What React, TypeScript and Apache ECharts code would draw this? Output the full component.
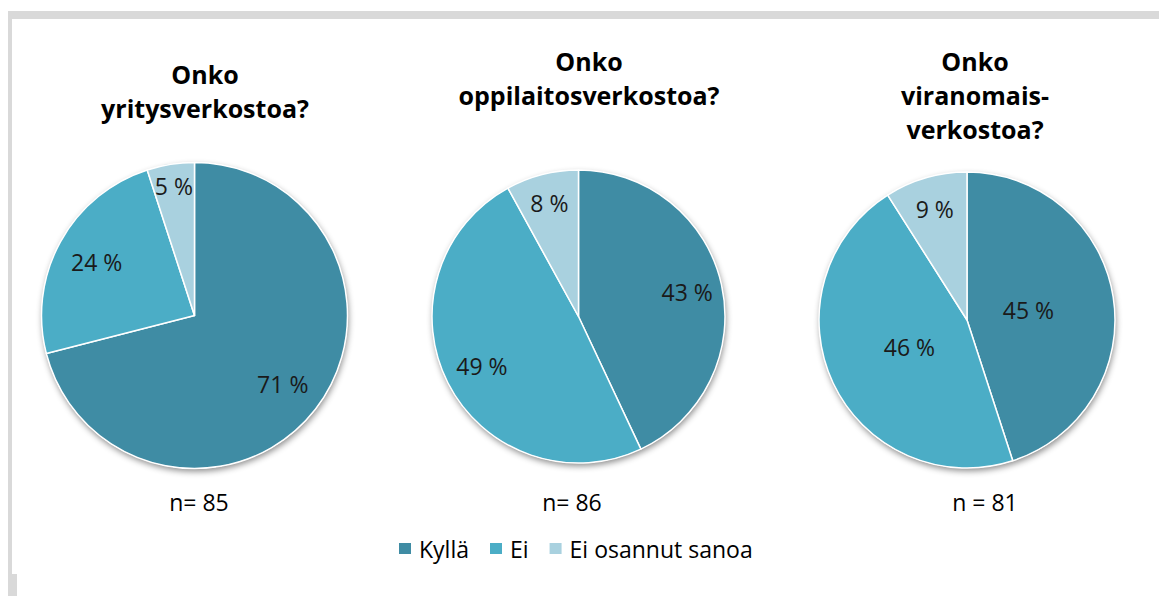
import React, { useEffect, useRef } from "react";
import * as echarts from "echarts";

const categories = ["Kyllä", "Ei", "Ei osannut sanoa"];
const colors = ["#3F8CA4", "#4BADC6", "#A9D1DF"];
const yritysValues = [71, 24, 5];
const oppilaitosValues = [43, 49, 8];
const viranomaisValues = [45, 46, 9];
const titles = ["Onko\nyritysverkostoa?", "Onko\noppilaitosverkostoa?", "Onko\nviranomais-\nverkostoa?"];
const nLabels = ["n= 85", "n= 86", "n = 81"];

const FONT = "'Open Sans', sans-serif";

// labelR: fraction of the radius at which each slice label sits
const pies = [
  { values: yritysValues, center: [194.5, 315.5], r: 153, labelR: [0.73, 0.73, 0.86], title: [205, 57], n: [199, 502] },
  { values: oppilaitosValues, center: [578.5, 316.5], r: 146.5, labelR: [0.76, 0.74, 0.8], title: [589, 44], n: [572, 502] },
  { values: viranomaisValues, center: [967, 320], r: 148, labelR: [0.42, 0.43, 0.78], title: [975, 44], n: [985, 502] },
];

export default function App() {
  const ref = useRef<HTMLDivElement>(null);
  useEffect(() => {
    if (!ref.current) return;
    const chart = echarts.init(ref.current, null, { renderer: "svg" });
    const series: any[] = [];
    pies.forEach((p, i) => {
      series.push({
        type: "pie",
        name: "bg" + i,
        silent: true,
        z: 1,
        center: p.center,
        radius: p.r,
        label: { show: false },
        labelLine: { show: false },
        data: [
          {
            value: 1,
            name: "",
            itemStyle: {
              color: "#ffffff",
              shadowBlur: 6,
              shadowOffsetX: 1,
              shadowOffsetY: 3,
              shadowColor: "rgba(0,0,0,0.45)",
            },
          },
        ],
      });
      series.push({
        type: "pie",
        name: "pie" + i,
        z: 2,
        center: p.center,
        radius: p.r,
        startAngle: 90,
        clockwise: true,
        silent: true,
        itemStyle: { borderColor: "#ffffff", borderWidth: 1.5 },
        label: {
          show: true,
          position: "inside",
          formatter: "{c} %",
          fontFamily: FONT,
          fontSize: 23,
          color: "#1a1a1a",
        },
        labelLine: { show: false },
        labelLayout: (params: any) => {
          const lr = params.labelRect;
          const cx = lr.x + lr.width / 2;
          const cy = lr.y + lr.height / 2;
          const vx = cx - p.center[0];
          const vy = cy - p.center[1];
          const d = Math.sqrt(vx * vx + vy * vy) || 1;
          const k = (p.labelR[params.dataIndex] * p.r) / d - 1;
          return { dx: vx * k, dy: vy * k };
        },
        data: categories.map((c, k) => ({ name: c, value: p.values[k], itemStyle: { color: colors[k] } })),
      });
    });

    const titleList: any[] = [];
    pies.forEach((p, i) => {
      titleList.push({
        text: titles[i],
        left: p.title[0],
        top: p.title[1],
        textAlign: "center",
        padding: 0,
        textStyle: { fontFamily: FONT, fontSize: 25, fontWeight: "bold", color: "#000", lineHeight: 34 },
      });
      titleList.push({
        text: nLabels[i],
        left: p.n[0],
        top: p.n[1] - 15,
        textAlign: "center",
        padding: 0,
        textStyle: { fontFamily: FONT, fontSize: 23, fontWeight: "normal", color: "#000", lineHeight: 30 },
      });
    });

    chart.setOption({
      animation: false,
      backgroundColor: "#ffffff",
      title: titleList,
      legend: {
        data: categories,
        left: 397,
        top: 537,
        padding: 0,
        icon: "rect",
        itemWidth: 14,
        itemHeight: 13,
        itemGap: 19,
        selectedMode: false,
        textStyle: { fontFamily: FONT, fontSize: 23, color: "#000", padding: [0, 0, 0, 2] },
      },
      graphic: [
        { type: "rect", shape: { x: 8, y: 11, width: 1151, height: 8 }, style: { fill: "#D9D9D9" }, silent: true },
        { type: "rect", shape: { x: 8, y: 11, width: 4, height: 563 }, style: { fill: "#D9D9D9" }, silent: true },
        { type: "rect", shape: { x: 8, y: 574, width: 9, height: 22 }, style: { fill: "#D9D9D9" }, silent: true },
      ],
      series,
    });
    return () => chart.dispose();
  }, []);
  return (
    <div
      ref={ref}
      style={{ position: "fixed", left: 0, top: 0, width: 1159, height: 596 }}
    />
  );
}
